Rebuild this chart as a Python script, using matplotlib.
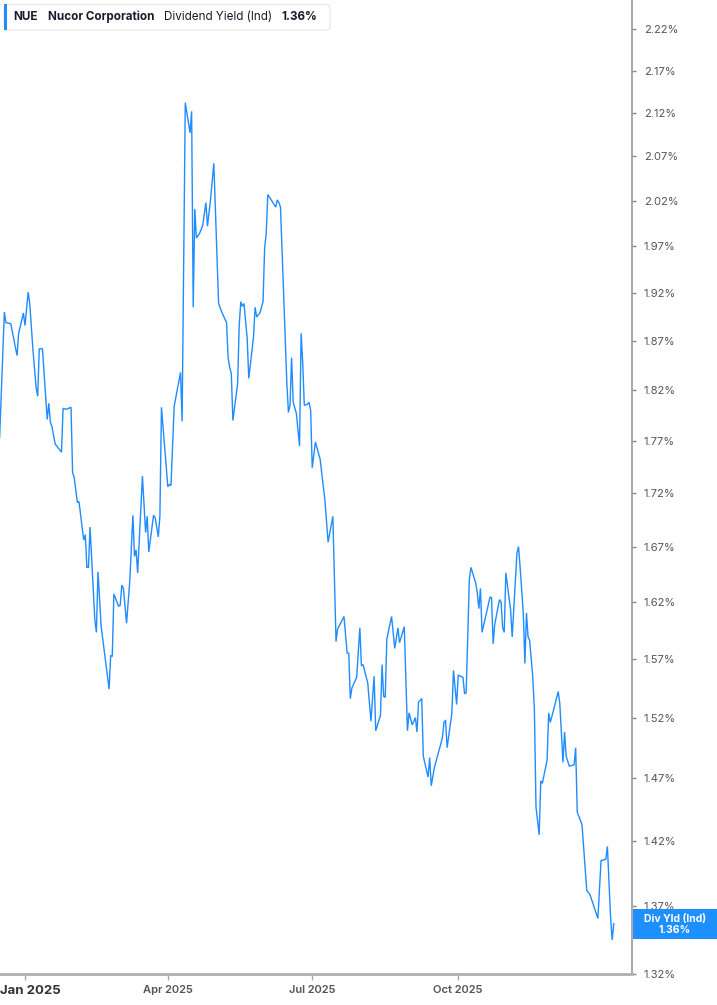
import matplotlib
matplotlib.use("Agg")
import matplotlib.pyplot as plt
import matplotlib.dates as mdates
import matplotlib.ticker as mticker
from matplotlib.patches import Rectangle, FancyBboxPatch
import pandas as pd
import numpy as np

plt.rcParams['font.family'] = ['Inter', 'DejaVu Sans']

ticker = "NUE"
company = "Nucor Corporation"
metric = "Dividend Yield (Ind)"
last_label = "1.36%"
badge_title = "Div Yld (Ind)"

dates = [
    "2024-12-16", "2024-12-19", "2024-12-20", "2024-12-23", "2024-12-27", "2024-12-28", "2024-12-31",
    "2025-01-01", "2025-01-03", "2025-01-04", "2025-01-06", "2025-01-08", "2025-01-09", "2025-01-10",
    "2025-01-12", "2025-01-15", "2025-01-16", "2025-01-17", "2025-01-18", "2025-01-20", "2025-01-24",
    "2025-01-25", "2025-01-27", "2025-01-30", "2025-01-31", "2025-02-01", "2025-02-03", "2025-02-04",
    "2025-02-07", "2025-02-08", "2025-02-09", "2025-02-10", "2025-02-11", "2025-02-14", "2025-02-15",
    "2025-02-16", "2025-02-18", "2025-02-23", "2025-02-24", "2025-02-25", "2025-02-26", "2025-03-01",
    "2025-03-02", "2025-03-03", "2025-03-04", "2025-03-06", "2025-03-08", "2025-03-10", "2025-03-11",
    "2025-03-12", "2025-03-13", "2025-03-16", "2025-03-18", "2025-03-19", "2025-03-20", "2025-03-23",
    "2025-03-24", "2025-03-26", "2025-03-27", "2025-03-28", "2025-04-01", "2025-04-02", "2025-04-03",
    "2025-04-05", "2025-04-09", "2025-04-10", "2025-04-12", "2025-04-13", "2025-04-15", "2025-04-16",
    "2025-04-17", "2025-04-18", "2025-04-19", "2025-04-21", "2025-04-23", "2025-04-25", "2025-04-26",
    "2025-04-28", "2025-04-30", "2025-05-03", "2025-05-05", "2025-05-08", "2025-05-09", "2025-05-10",
    "2025-05-11", "2025-05-12", "2025-05-15", "2025-05-16", "2025-05-17", "2025-05-18", "2025-05-19",
    "2025-05-21", "2025-05-22", "2025-05-25", "2025-05-26", "2025-05-27", "2025-05-29", "2025-05-31",
    "2025-06-01", "2025-06-02", "2025-06-03", "2025-06-08", "2025-06-09", "2025-06-10", "2025-06-11",
    "2025-06-15", "2025-06-16", "2025-06-17", "2025-06-18", "2025-06-19", "2025-06-21", "2025-06-23",
    "2025-06-24", "2025-06-25", "2025-06-26", "2025-06-28", "2025-06-29", "2025-06-30", "2025-07-01",
    "2025-07-03", "2025-07-06", "2025-07-09", "2025-07-11", "2025-07-14", "2025-07-16", "2025-07-17",
    "2025-07-21", "2025-07-23", "2025-07-24", "2025-07-25", "2025-07-26", "2025-07-29", "2025-07-31",
    "2025-08-01", "2025-08-02", "2025-08-05", "2025-08-07", "2025-08-09", "2025-08-10", "2025-08-13",
    "2025-08-14", "2025-08-15", "2025-08-16", "2025-08-17", "2025-08-20", "2025-08-22", "2025-08-24",
    "2025-08-25", "2025-08-28", "2025-08-30", "2025-08-31", "2025-09-02", "2025-09-04", "2025-09-05",
    "2025-09-06", "2025-09-08", "2025-09-09", "2025-09-12", "2025-09-13", "2025-09-14", "2025-09-16",
    "2025-09-21", "2025-09-22", "2025-09-23", "2025-09-24", "2025-09-27", "2025-09-28", "2025-09-30",
    "2025-10-01", "2025-10-04", "2025-10-05", "2025-10-06", "2025-10-08", "2025-10-09", "2025-10-12",
    "2025-10-13", "2025-10-14", "2025-10-15", "2025-10-16", "2025-10-21", "2025-10-22", "2025-10-23",
    "2025-10-24", "2025-10-27", "2025-10-28", "2025-10-29", "2025-10-30", "2025-10-31", "2025-11-03",
    "2025-11-04", "2025-11-07", "2025-11-08", "2025-11-09", "2025-11-11", "2025-11-12", "2025-11-13",
    "2025-11-14", "2025-11-15", "2025-11-17", "2025-11-18", "2025-11-19", "2025-11-21", "2025-11-22",
    "2025-11-23", "2025-11-26", "2025-11-27", "2025-11-28", "2025-11-30", "2025-12-03", "2025-12-04",
    "2025-12-06", "2025-12-07", "2025-12-08", "2025-12-10", "2025-12-13", "2025-12-14", "2025-12-15",
    "2025-12-18", "2025-12-21", "2025-12-23", "2025-12-28", "2025-12-30", "2026-01-02", "2026-01-03",
    "2026-01-05", "2026-01-06", "2026-01-07",
]

div_yield = [
    1.773, 1.900, 1.889, 1.888, 1.855, 1.878, 1.899,
    1.886, 1.921, 1.909, 1.861, 1.823, 1.814, 1.862,
    1.862, 1.791, 1.807, 1.788, 1.784, 1.767, 1.759,
    1.802, 1.801, 1.803, 1.739, 1.735, 1.711, 1.712,
    1.676, 1.681, 1.651, 1.651, 1.688, 1.604, 1.593,
    1.647, 1.598, 1.544, 1.573, 1.572, 1.627, 1.616,
    1.617, 1.635, 1.632, 1.601, 1.638, 1.699, 1.661,
    1.667, 1.646, 1.736, 1.683, 1.698, 1.665, 1.699,
    1.697, 1.679, 1.698, 1.803, 1.726, 1.728, 1.727,
    1.804, 1.838, 1.789, 2.132, 2.120, 2.097, 2.122,
    1.905, 2.011, 1.979, 1.984, 1.993, 2.018, 1.992,
    2.023, 2.062, 1.909, 1.900, 1.889, 1.853, 1.843,
    1.837, 1.790, 1.827, 1.887, 1.911, 1.906, 1.909,
    1.873, 1.832, 1.874, 1.905, 1.895, 1.899, 1.911,
    1.968, 1.984, 2.027, 2.013, 2.021, 2.018, 2.013,
    1.827, 1.798, 1.805, 1.853, 1.808, 1.797, 1.765,
    1.878, 1.848, 1.805, 1.806, 1.808, 1.800, 1.744,
    1.769, 1.752, 1.713, 1.674, 1.698, 1.585, 1.596,
    1.607, 1.575, 1.575, 1.536, 1.545, 1.554, 1.597,
    1.564, 1.565, 1.549, 1.517, 1.555, 1.509, 1.522,
    1.565, 1.538, 1.537, 1.587, 1.607, 1.579, 1.597,
    1.584, 1.598, 1.509, 1.524, 1.514, 1.520, 1.508,
    1.533, 1.536, 1.488, 1.471, 1.487, 1.464, 1.479,
    1.503, 1.516, 1.518, 1.495, 1.524, 1.560, 1.531,
    1.556, 1.554, 1.540, 1.541, 1.640, 1.651, 1.637,
    1.628, 1.614, 1.632, 1.593, 1.624, 1.624, 1.583,
    1.600, 1.622, 1.620, 1.597, 1.593, 1.646, 1.613,
    1.589, 1.664, 1.670, 1.651, 1.610, 1.566, 1.610,
    1.589, 1.586, 1.554, 1.526, 1.447, 1.425, 1.468,
    1.466, 1.485, 1.524, 1.516, 1.526, 1.542, 1.532,
    1.483, 1.508, 1.488, 1.480, 1.481, 1.495, 1.443,
    1.433, 1.382, 1.379, 1.361, 1.405, 1.406, 1.416,
    1.362, 1.345, 1.357,
]

ytick_values = [1.32, 1.37, 1.42, 1.47, 1.52, 1.57, 1.62, 1.67, 1.72, 1.77, 1.82,
                1.87, 1.92, 1.97, 2.02, 2.07, 2.12, 2.17, 2.22]
xtick_dates = ["2025-01-01", "2025-04-01", "2025-07-01", "2025-10-01"]
xtick_labels = ["Jan 2025", "Apr 2025", "Jul 2025", "Oct 2025"]

W, H = 717, 1005
fig = plt.figure(figsize=(W / 100, H / 100), dpi=100)
fig.patch.set_facecolor("white")

ax = fig.add_axes([0, (H - 974) / H, 632 / W, 974 / H])
ax.set_facecolor("white")

x = pd.to_datetime(dates)
line_color = "#1f8cff"
ax.plot(x, div_yield, color=line_color, lw=1.0, solid_joinstyle="miter")

ax.set_yscale("log")
ax.set_ylim(1.32, 2.256)
x0 = pd.Timestamp("2025-01-01")
ax.set_xlim(x0 - pd.Timedelta(days=15.75), x0 + pd.Timedelta(days=382.5))

ax.yaxis.tick_right()
ax.yaxis.set_major_locator(mticker.FixedLocator(ytick_values))
ax.yaxis.set_minor_locator(mticker.NullLocator())
ax.yaxis.set_major_formatter(mticker.FuncFormatter(lambda v, p: f"{v:.2f}%"))
ax.tick_params(axis="y", which="major", direction="out", length=3, width=1,
               color="#888888", labelsize=8, labelcolor="#555555", pad=5.5)

xt = pd.to_datetime(xtick_dates)
ax.set_xticks(xt)
ax.set_xticklabels([""] + xtick_labels[1:])
ax.tick_params(axis="x", direction="out", length=4, width=1, color="#aaaaaa",
               labelsize=8, labelcolor="#555555", pad=4)
for lab in ax.get_xticklabels():
    lab.set_fontweight("semibold")

fig.text(0.5 / W, 1 - 991 / H, xtick_labels[0], fontsize=9.5, fontweight="bold",
         color="#333333", ha="left", va="center")

for s in ["top", "left"]:
    ax.spines[s].set_visible(False)
ax.spines["right"].set_color("#999999")
ax.spines["right"].set_linewidth(1.2)
ax.spines["bottom"].set_color("#b0b0b0")
ax.spines["bottom"].set_linewidth(2.0)
ax.grid(False)

# Legend box
box = FancyBboxPatch((4 / W, 1 - 30 / H), 326 / W, 25.5 / H,
                     boxstyle="round,pad=0,rounding_size=0.004",
                     transform=fig.transFigure, facecolor="white",
                     edgecolor="#e6e6e6", linewidth=0.8, zorder=5)
fig.patches.append(box)
bar = Rectangle((4 / W, 1 - 30 / H), 2.8 / W, 25.5 / H, transform=fig.transFigure,
                facecolor=line_color, edgecolor="none", zorder=6)
fig.patches.append(bar)
ty = 1 - 17.2 / H
fs = 8.4
fig.text(13.3 / W, ty, ticker, fontsize=fs, fontweight="bold", color="#1a1a2e", va="center", zorder=7)
fig.text(47.7 / W, ty, company, fontsize=fs, fontweight="bold", color="#1a1a2e", va="center", zorder=7)
fig.text(164.3 / W, ty, metric, fontsize=fs, color="#1a1a2e", va="center", zorder=7)
fig.text(281.7 / W, ty, last_label, fontsize=fs, fontweight="bold", color="#1a1a2e", va="center", zorder=7)

# Last value badge
badge = Rectangle((633 / W, 1 - 939 / H), 84 / W, 30 / H, transform=fig.transFigure,
                  facecolor="#1e8fff", edgecolor="none", zorder=8)
fig.patches.append(badge)
fig.text(675 / W, 1 - 918.5 / H, badge_title, fontsize=7.5, fontweight="bold",
         color="white", ha="center", va="center", zorder=9)
fig.text(675 / W, 1 - 930 / H, last_label, fontsize=7.5, fontweight="bold",
         color="white", ha="center", va="center", zorder=9)

fig.savefig("out.png", dpi=100, facecolor="white")
